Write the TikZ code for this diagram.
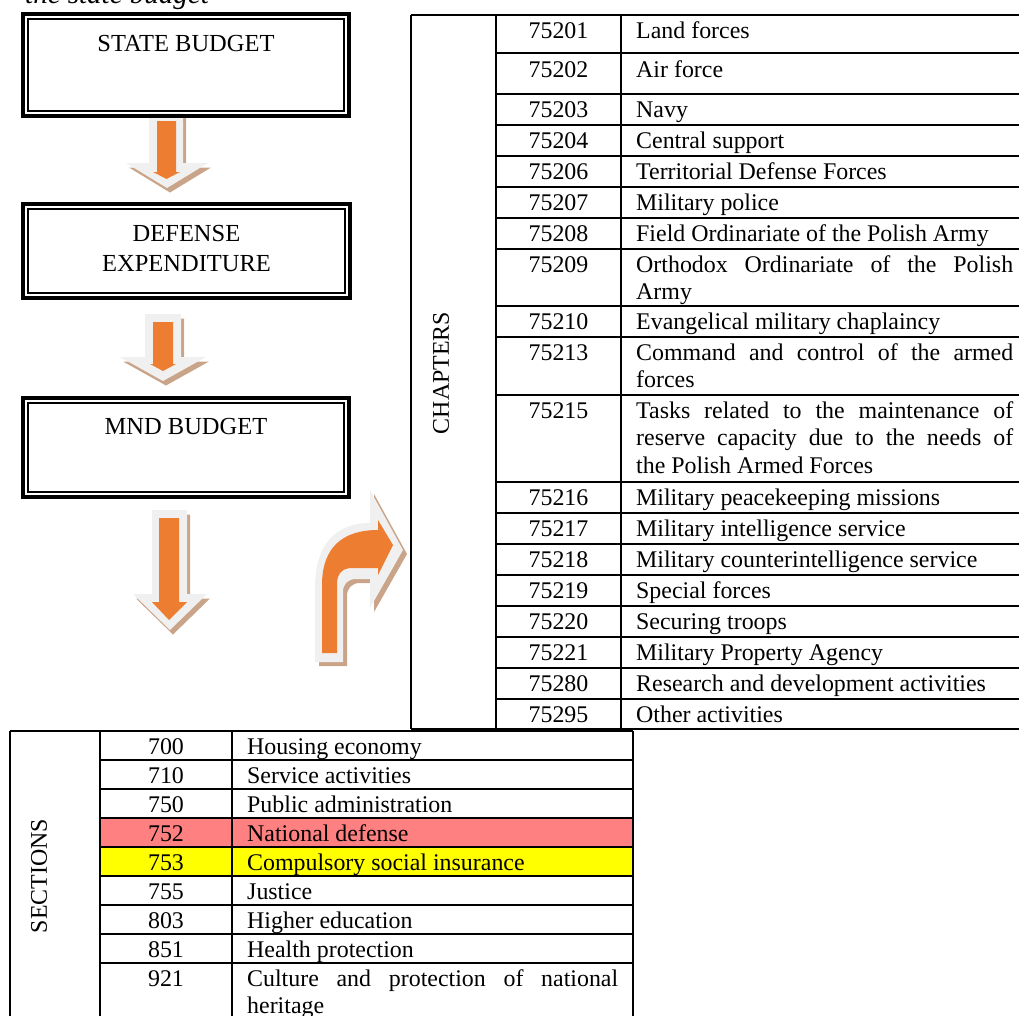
\documentclass[tikz,border=0pt]{standalone}
\usepackage{fontspec}
\setmainfont{Liberation Serif}
\definecolor{arrorange}{RGB}{237,125,49}
\definecolor{glowgrey}{RGB}{240,240,240}
\definecolor{shadowtan}{RGB}{201,164,136}
\definecolor{rowred}{RGB}{255,128,128}
\definecolor{rowyellow}{RGB}{255,255,0}
\newcommand\tabfont{\fontsize{23.9}{27.5}\selectfont}
\newcommand\boxfont{\fontsize{24.5}{30}\selectfont}
\newcommand\jtop[1]{\makebox[377pt][s]{#1}}
\newcommand\jbot[1]{\makebox[371pt][s]{#1}}
\tikzset{
  codetxt/.style={anchor=base, inner sep=0pt, font=\tabfont},
  desctxt/.style={anchor=base west, inner sep=0pt, font=\tabfont},
  boxtxt/.style={anchor=base, inner sep=0pt, font=\boxfont},
  tline/.style={line width=1.8pt},
  boxouter/.style={draw, line width=4pt, inner sep=0pt, outer sep=0pt},
  boxinner/.style={draw, line width=1.8pt},
  glow/.style={fill=glowgrey},
  shade/.style={fill=shadowtan},
  body/.style={fill=arrorange},
}
\begin{document}
\begin{tikzpicture}[x=1pt,y=-1pt]
\useasboundingbox (0,0) rectangle (1019,1015);

% caption (cut off at the top)
\node[anchor=base west, inner sep=0pt, font=\itshape\fontsize{29}{33}\selectfont] (cap) at (25,3.5) {the state budget};

% ---------- block arrows ----------
% arrow 1
\begin{scope}[shift={(3,4.5)}]
\path[shade] (149,113) -- (183,113) -- (183,163) -- (208,163) -- (167,188) -- (126,163) -- (149,163) -- cycle;
\end{scope}
\path[glow] (149,113) -- (183,113) -- (183,163) -- (208,163) -- (167,188) -- (126,163) -- (149,163) -- cycle;
\path[body] (157,121) -- (176,121) -- (176,172) -- (180,172) -- (166.5,179) -- (153,172) -- (157,172) -- cycle;
% arrow 2
\begin{scope}[shift={(3,4.5)}]
\path[shade] (145,314) -- (181,314) -- (181,357) -- (206,357) -- (163,381) -- (120,357) -- (145,357) -- cycle;
\end{scope}
\path[glow] (145,314) -- (181,314) -- (181,357) -- (206,357) -- (163,381) -- (120,357) -- (145,357) -- cycle;
\path[body] (153,322) -- (173,322) -- (173,364) -- (176,364) -- (163,371) -- (150,364) -- (153,364) -- cycle;
% arrow 3
\begin{scope}[shift={(3,4.5)}]
\path[shade] (152,510) -- (187,510) -- (187,594) -- (207,594) -- (170,630) -- (133,594) -- (152,594) -- cycle;
\end{scope}
\path[glow] (152,510) -- (187,510) -- (187,594) -- (207,594) -- (170,630) -- (133,594) -- (152,594) -- cycle;
\path[body] (159,518) -- (179,518) -- (179,602) -- (187,602) -- (169,620) -- (152,602) -- (159,602) -- cycle;
% curved arrow
\begin{scope}[shift={(4,4)}]
\path[shade] (315,662) -- (315,588) .. controls (315,545) and (335,523) .. (370,523) -- (370,490) -- (403,550) -- (370,608) -- (370,579) -- (356,579) .. controls (348,579) and (343,584) .. (343,592) -- (343,662) -- cycle;
\end{scope}
\path[glow] (315,662) -- (315,588) .. controls (315,545) and (335,523) .. (370,523) -- (370,490) -- (403,550) -- (370,608) -- (370,579) -- (356,579) .. controls (348,579) and (343,584) .. (343,592) -- (343,662) -- cycle;
\path[body] (322,653) -- (322,585) .. controls (322,548) and (342,530) .. (378,530) -- (378,520) -- (393,545) -- (378,575) -- (378,568) -- (352,568) .. controls (342,568) and (337,574) .. (337,584) -- (337,653) -- cycle;

% ---------- boxes ----------
\node[boxouter, minimum width=326, minimum height=102] (sb) at (186,65) {};
\draw[boxinner] ([shift={(5,5)}]sb.north west) rectangle ([shift={(-5,-5)}]sb.south east);
\node[boxtxt] (sbt) at (186,51) {STATE BUDGET};

\node[boxouter, minimum width=327, minimum height=94] (de) at (186.5,251) {};
\draw[boxinner] ([shift={(5,5)}]de.north west) rectangle ([shift={(-5,-5)}]de.south east);
\node[boxtxt] (det1) at (186.5,241) {DEFENSE};
\node[boxtxt] (det2) at (186.5,271) {EXPENDITURE};

\node[boxouter, minimum width=326, minimum height=99] (mnd) at (186,447.5) {};
\draw[boxinner] ([shift={(5,5)}]mnd.north west) rectangle ([shift={(-5,-5)}]mnd.south east);
\node[boxtxt] (mndt) at (186,434) {MND BUDGET};

% ---------- chapters table ----------
\draw[tline] (411,15) -- (1021,15);
\draw[tline] (411,729) -- (1021,729);
\draw[tline] (411,15) -- (411,729);
\draw[tline] (496,15) -- (496,729);
\draw[tline] (621,15) -- (621,729);
\foreach \yy in {53,94,125,156,187,218,249,306,337,395,482,513,544,575,606,637,668,699}
  \draw[tline] (496,\yy) -- (1021,\yy);
\node[rotate=90, inner sep=0pt, font=\tabfont] (chap) at (441,373) {CHAPTERS};

\foreach \yb/\cd/\ds [count=\i] in {
  38/75201/Land forces,
  77/75202/Air force,
  117/75203/Navy,
  148/75204/Central support,
  179/75206/Territorial Defense Forces,
  210/75207/Military police,
  241/75208/Field Ordinariate of the Polish Army,
  272/75209/,
  329/75210/Evangelical military chaplaincy,
  360/75213/,
  418/75215/,
  505/75216/Military peacekeeping missions,
  536/75217/Military intelligence service,
  567/75218/Military counterintelligence service,
  598/75219/Special forces,
  629/75220/Securing troops,
  660/75221/Military Property Agency,
  691/75280/Research and development activities,
  722/75295/Other activities}
{
  \node[codetxt] (c\i) at (558.5,\yb) {\cd};
  \node[desctxt] (d\i) at (636,\yb) {\ds};
}
\node[desctxt] (d8a) at (636,272) {\jtop{Orthodox Ordinariate of the Polish}};
\node[desctxt] (d8b) at (636,299.5) {Army};
\node[desctxt] (d10a) at (636,360) {\jtop{Command and control of the armed}};
\node[desctxt] (d10b) at (636,387.5) {forces};
\node[desctxt] (d11a) at (636,418) {\jtop{Tasks related to the maintenance of}};
\node[desctxt] (d11b) at (636,445.5) {\jtop{reserve capacity due to the needs of}};
\node[desctxt] (d11c) at (636,473) {the Polish Armed Forces};

% ---------- sections table ----------
\fill[rowred] (100,818) rectangle (633,847);
\fill[rowyellow] (100,847) rectangle (633,876);
\draw[tline] (10,731) -- (633,731);
\draw[tline] (10,731) -- (10,1017);
\draw[tline] (100,731) -- (100,1017);
\draw[tline] (232,731) -- (232,1017);
\draw[tline] (633,731) -- (633,1017);
\foreach \yy in {760,789,818,847,876,905,934,963}
  \draw[tline] (100,\yy) -- (633,\yy);
\node[rotate=90, inner sep=0pt, font=\tabfont] (sect) at (39,876) {SECTIONS};

\foreach \yb/\cd/\ds [count=\i] in {
  754/700/Housing economy,
  783/710/Service activities,
  812/750/Public administration,
  841/752/National defense,
  870/753/Compulsory social insurance,
  899/755/Justice,
  928/803/Higher education,
  957/851/Health protection,
  986/921/}
{
  \node[codetxt] (s\i) at (166,\yb) {\cd};
  \node[desctxt] (t\i) at (247,\yb) {\ds};
}
\node[desctxt] (t9a) at (247,986) {\jbot{Culture and protection of national}};
\node[desctxt] (t9b) at (247,1013.5) {heritage};
\end{tikzpicture}
\end{document}
